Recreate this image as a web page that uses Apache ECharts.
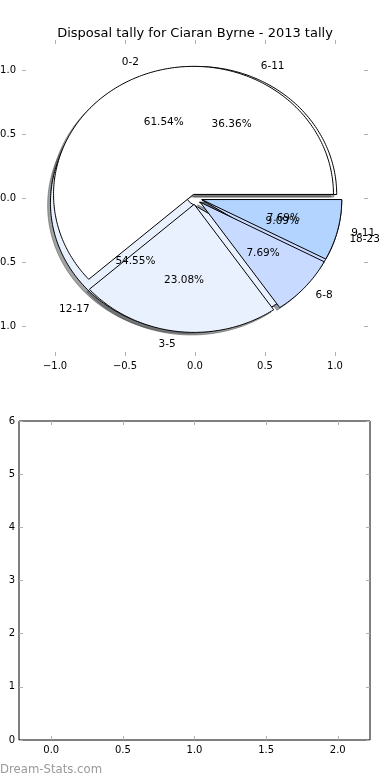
<!DOCTYPE html>
<html><head><meta charset="utf-8">
<script src="https://cdn.jsdelivr.net/npm/echarts@6/dist/echarts.min.js"></script>
<style>html,body{margin:0;padding:0;background:#fff}#c{width:390px;height:780px}</style>
</head><body><div id="c"></div>
<script>
// ---- data ----
const chartTitle = 'Disposal tally for Ciaran Byrne - 2013 tally';
const pieALabels = ['0-2', '3-5', '6-8', '9-11'];
const pieAValues = [8, 3, 1, 1];
const pieBLabels = ['6-11', '12-17', '18-23'];
const pieBValues = [4, 6, 1];
const pieTicks = [-1, -0.5, 0, 0.5, 1];
const lowerXTicks = [0, 0.5, 1, 1.5, 2];
const lowerYTicks = [0, 1, 2, 3, 4, 5, 6];
const watermark = 'Dream-Stats.com';

// ---- styling / layout config ----
const pieColors = ['#ffffff', '#eaf1fe', '#c8daff', '#b3d4ff'];
const explodeA = [0.03, 0.05, 0.05, 0.05];
const explodeB = [0.03, 0.05, 0.05];
const FONT = 'DejaVu Sans';
const RAD = Math.PI / 180;

function makeSlices(values, explode, labels) {
  const total = values.reduce((a, b) => a + b, 0);
  let a = 0;
  return values.map((v, i) => {
    const span = 360 * v / total;
    const s = { start: a, end: a + span, mid: a + span / 2, ex: explode[i],
      color: pieColors[i], label: labels[i], pct: (100 * v / total).toFixed(2) + '%' };
    a += span;
    return s;
  });
}
const slicesA = makeSlices(pieAValues, explodeA, pieALabels);
const slicesB = makeSlices(pieBValues, explodeB, pieBLabels);
const allSlices = slicesB.concat(slicesA); // B drawn first, A on top

function wedgePts(api, s, dx, dy) {
  const ox = s.ex * Math.cos(s.mid * RAD) + dx;
  const oy = s.ex * Math.sin(s.mid * RAD) + dy;
  const pts = [api.coord([ox, oy])];
  const n = Math.max(2, Math.ceil(s.end - s.start));
  for (let i = 0; i <= n; i++) {
    const t = (s.start + (s.end - s.start) * i / n) * RAD;
    pts.push(api.coord([ox + Math.cos(t), oy + Math.sin(t)]));
  }
  return pts;
}
function shadowColor(hex) {
  const r = parseInt(hex.slice(1, 3), 16), g = parseInt(hex.slice(3, 5), 16), b = parseInt(hex.slice(5, 7), 16);
  return 'rgba(' + Math.round(r * 0.3) + ',' + Math.round(g * 0.3) + ',' + Math.round(b * 0.3) + ',0.5)';
}

// text items
const texts = [];
[slicesB, slicesA].forEach(sl => sl.forEach(s => {
  const c = Math.cos(s.mid * RAD), si = Math.sin(s.mid * RAD);
  const lx = (s.ex + 1.1) * c, ly = (s.ex + 1.1) * si;
  texts.push({ x: lx, y: ly, text: s.label, align: lx > 0 ? 'left' : 'right' });
  texts.push({ x: (s.ex + 0.6) * c, y: (s.ex + 0.6) * si, text: s.pct, align: 'center' });
}));

const fmt = v => (v < 0 ? '\u2212' : '') + Math.abs(v).toFixed(1);
const tickStyle = { inside: true, length: 4, lineStyle: { color: '#b0b0b0', width: 1 } };
const noLine = { show: false, onZero: false };

const chart = echarts.init(document.getElementById('c'), null, { renderer: 'canvas' });
chart.setOption({
  animation: false,
  backgroundColor: '#fff',
  title: { text: chartTitle, left: 'center', top: 22,
    textStyle: { fontFamily: FONT, fontSize: 13, fontWeight: 'normal', color: '#000' } },
  graphic: [{ type: 'text', left: 0, top: 764,
    style: { text: watermark, fill: '#9a9a9a', font: '11.7px "' + FONT + '"' } }],
  grid: [
    { left: 22, top: 40, width: 346, height: 316, show: false, containLabel: false, outerBoundsMode: 'none' },
    { left: 19, top: 421, width: 351, height: 319, show: true, borderColor: '#000', borderWidth: 1,
      backgroundColor: 'transparent', containLabel: false, outerBoundsMode: 'none' }
  ],
  xAxis: [
    { gridIndex: 0, type: 'value', min: -1.236, max: 1.236, position: 'bottom',
      axisLine: noLine, splitLine: { show: false },
      axisTick: Object.assign({ customValues: pieTicks }, tickStyle),
      axisLabel: { customValues: pieTicks, formatter: fmt, margin: 5, color: '#000', fontSize: 10, fontFamily: FONT } },
    { gridIndex: 0, type: 'value', min: -1.236, max: 1.236, position: 'top',
      axisLine: noLine, splitLine: { show: false },
      axisTick: Object.assign({ customValues: pieTicks }, tickStyle), axisLabel: { show: false } },
    { gridIndex: 1, type: 'value', min: -0.225, max: 2.225, position: 'bottom',
      axisLine: noLine, splitLine: { show: false },
      axisTick: Object.assign({ customValues: lowerXTicks }, tickStyle),
      axisLabel: { customValues: lowerXTicks, formatter: v => v.toFixed(1), margin: 5, color: '#000', fontSize: 10, fontFamily: FONT } },
    { gridIndex: 1, type: 'value', min: -0.225, max: 2.225, position: 'top',
      axisLine: noLine, splitLine: { show: false },
      axisTick: Object.assign({ customValues: lowerXTicks }, tickStyle), axisLabel: { show: false } }
  ],
  yAxis: [
    { gridIndex: 0, type: 'value', min: -1.234, max: 1.234, position: 'left',
      axisLine: noLine, splitLine: { show: false },
      axisTick: Object.assign({ customValues: pieTicks }, tickStyle),
      axisLabel: { customValues: pieTicks, formatter: fmt, margin: 6, color: '#000', fontSize: 10, fontFamily: FONT } },
    { gridIndex: 0, type: 'value', min: -1.234, max: 1.234, position: 'right',
      axisLine: noLine, splitLine: { show: false },
      axisTick: Object.assign({ customValues: pieTicks }, tickStyle), axisLabel: { show: false } },
    { gridIndex: 1, type: 'value', min: 0, max: 6, position: 'left',
      axisLine: noLine, splitLine: { show: false },
      axisTick: Object.assign({ customValues: lowerYTicks }, tickStyle),
      axisLabel: { customValues: lowerYTicks, formatter: v => String(v), margin: 4, color: '#000', fontSize: 10, fontFamily: FONT } },
    { gridIndex: 1, type: 'value', min: 0, max: 6, position: 'right',
      axisLine: noLine, splitLine: { show: false },
      axisTick: Object.assign({ customValues: lowerYTicks }, tickStyle), axisLabel: { show: false } }
  ],
  series: [
    { type: 'custom', name: 'shadows', xAxisIndex: 0, yAxisIndex: 0, z: 1, clip: false, silent: true,
      data: allSlices.map((s, i) => [i]),
      renderItem: (p, api) => {
        const s = allSlices[p.dataIndex];
        const col = shadowColor(s.color);
        return { type: 'polygon', shape: { points: wedgePts(api, s, -0.02, -0.02) },
          style: { fill: col, stroke: col, lineWidth: 1 } };
      } },
    { type: 'custom', name: 'pieB', xAxisIndex: 0, yAxisIndex: 0, z: 2, clip: false, silent: true,
      data: pieBValues.map((v, i) => [i, v]),
      renderItem: (p, api) => {
        const s = slicesB[p.dataIndex];
        return { type: 'polygon', shape: { points: wedgePts(api, s, 0, 0) },
          style: { fill: s.color, stroke: '#000', lineWidth: 1 } };
      } },
    { type: 'custom', name: 'pieA', xAxisIndex: 0, yAxisIndex: 0, z: 3, clip: false, silent: true,
      data: pieAValues.map((v, i) => [i, v]),
      renderItem: (p, api) => {
        const s = slicesA[p.dataIndex];
        return { type: 'polygon', shape: { points: wedgePts(api, s, 0, 0) },
          style: { fill: s.color, stroke: '#000', lineWidth: 1 } };
      } },
    { type: 'custom', name: 'labels', xAxisIndex: 0, yAxisIndex: 0, z: 4, clip: false, silent: true,
      data: texts.map((t, i) => [i]),
      renderItem: (p, api) => {
        const t = texts[p.dataIndex];
        const pt = api.coord([t.x, t.y]);
        return { type: 'text', x: pt[0], y: pt[1],
          style: { text: t.text, fill: '#000', font: '10.5px "' + FONT + '"', align: t.align, verticalAlign: 'middle' } };
      } },
    { type: 'scatter', xAxisIndex: 2, yAxisIndex: 2, data: [] }
  ]
});
</script>
</body></html>
